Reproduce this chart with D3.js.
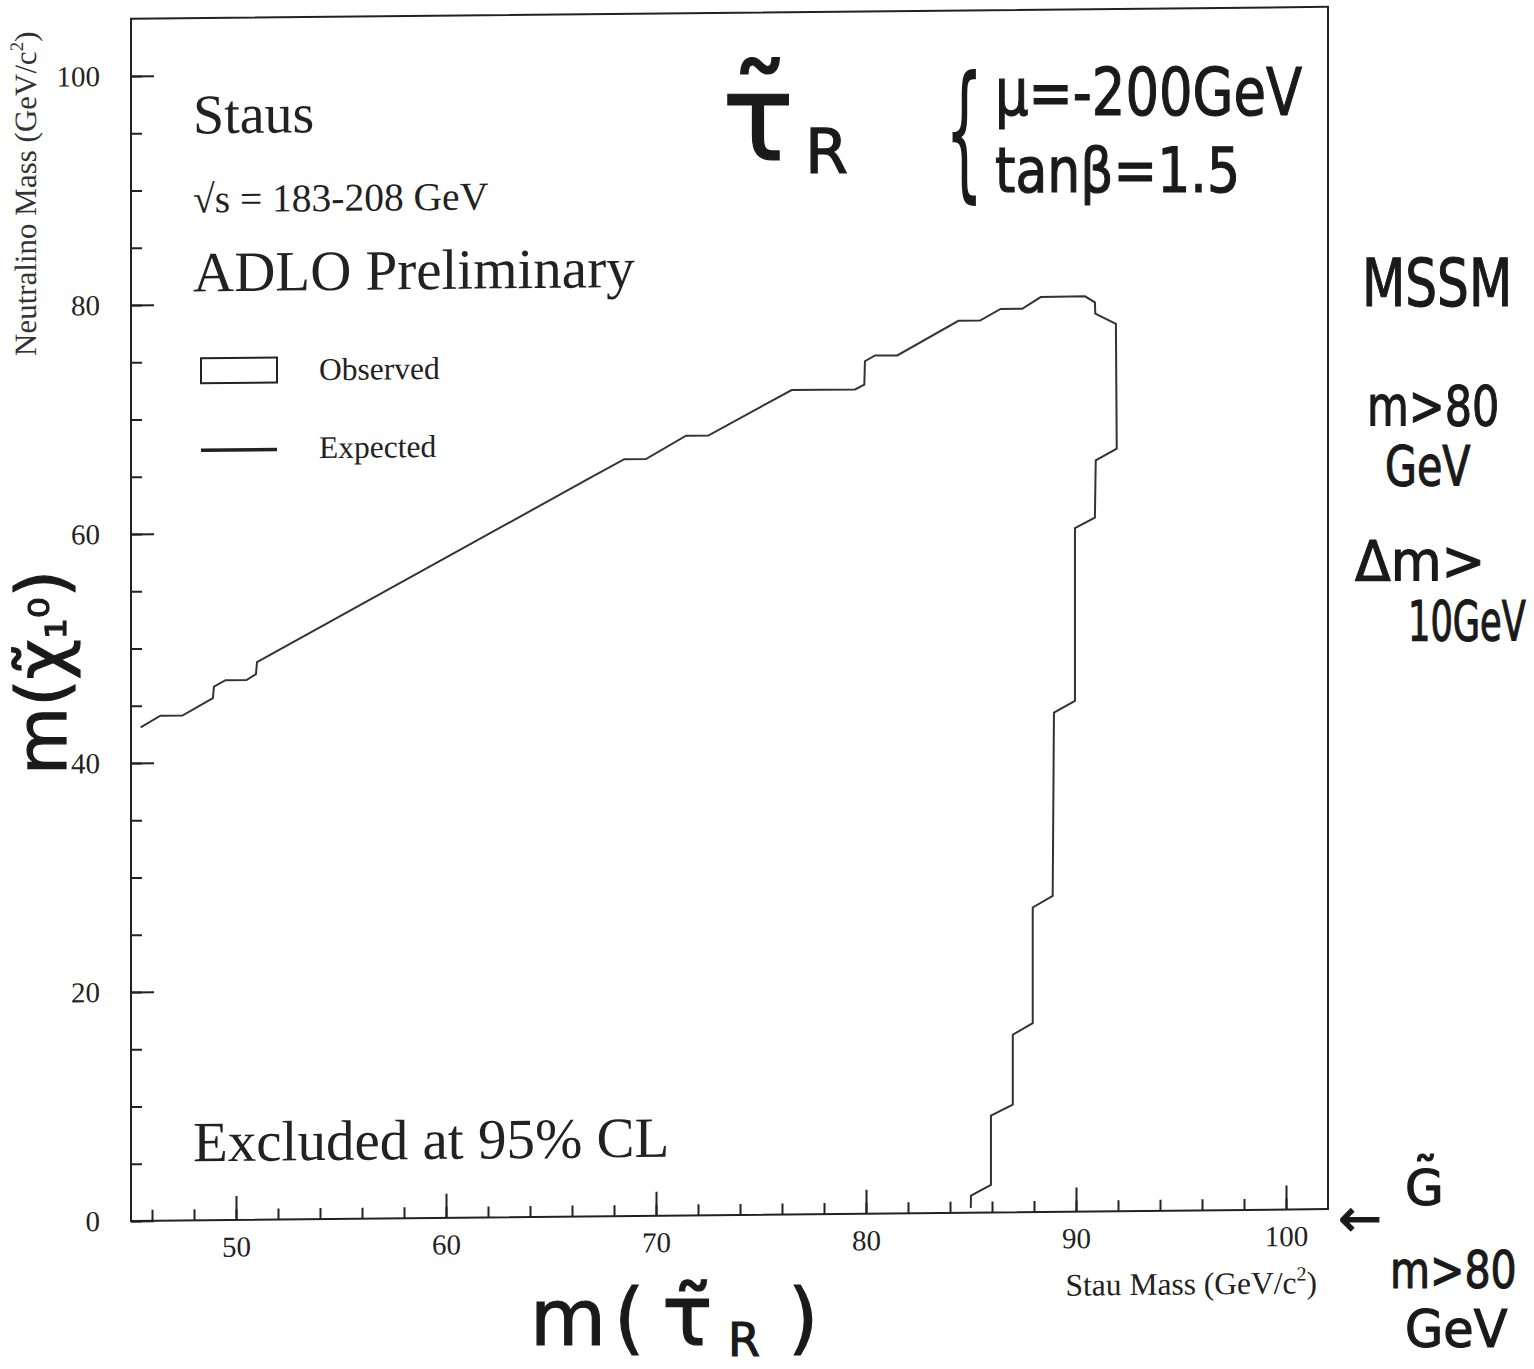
<!DOCTYPE html>
<html>
<head>
<meta charset="utf-8">
<script src="https://d3js.org/d3.v7.min.js"></script>
<style>
  body { margin: 0; background: #fff; }
  svg { display: block; }
</style>
</head>
<body>
<div id="chart"></div>
<script>
// excluded region contour (stau mass, neutralino mass)
var stauMass = [45.46, 46.4, 47.45, 48.9, 48.95, 49.5, 50.5, 50.95, 51.0, 52.57, 66.86, 68.49, 69.52, 71.43, 72.49, 76.46, 79.48, 79.92, 79.95, 80.43, 81.49, 84.4, 85.43, 86.41, 87.44, 88.32, 90.43, 90.9, 90.92, 91.9, 91.94, 90.94, 90.9, 89.95, 89.95, 88.95, 88.89, 87.94, 87.94, 86.99, 86.99, 85.95, 85.95, 85.0, 84.99]
var neutralinoMass = [43.1, 44.1, 44.1, 45.6, 46.6, 47.15, 47.15, 47.65, 48.7, 50.26, 64.5, 66.1, 66.1, 68.1, 68.1, 72.0, 72.0, 72.4, 74.45, 74.95, 74.93, 77.9, 77.9, 78.9, 78.9, 79.9, 79.93, 79.4, 78.4, 77.5, 66.6, 65.6, 60.6, 59.7, 44.6, 43.6, 27.6, 26.6, 16.5, 15.5, 9.4, 8.45, 2.4, 1.48, 0.4]

var xMajor = [50, 60, 70, 80, 90, 100]
var xMinor = d3.range(46, 101, 2)
var yMajor = [0, 20, 40, 60, 80, 100]
var yMinor = d3.range(0, 105, 5)

var serif = "'Liberation Serif', 'Times New Roman', serif"
var hand = "'DejaVu Sans', sans-serif"

var W = 1534, H = 1369
var svg = d3.select("#chart").append("svg").attr("width", W).attr("height", H)

var plotLeft = 131, plotRight = 1328, plotBottom = 1221
var x = d3.scaleLinear().domain([45, 102]).range([plotLeft, plotRight])
var y = d3.scaleLinear().domain([0, 100]).range([plotBottom, 76])
var plotTop = y(105)

// the scan is slightly sheared, follow it
var g = svg.append("g")
  .attr("transform", "translate(" + plotLeft + ",0) skewY(-0.57) translate(" + (-plotLeft) + ",0)")

g.append("rect")
  .attr("x", plotLeft).attr("y", plotTop)
  .attr("width", plotRight - plotLeft).attr("height", plotBottom - plotTop)
  .attr("fill", "none").attr("stroke", "#222").attr("stroke-width", 2)

// minor ticks
g.append("g").attr("transform", "translate(0," + plotBottom + ")")
  .call(d3.axisBottom(x).tickValues(xMinor).tickSize(-11).tickFormat(""))
g.append("g").attr("transform", "translate(" + plotLeft + ",0)")
  .call(d3.axisLeft(y).tickValues(yMinor).tickSize(-11).tickFormat(""))

// major ticks with labels
g.append("g").attr("transform", "translate(0," + plotBottom + ")")
  .call(d3.axisBottom(x).tickValues(xMajor).tickSize(-24).tickPadding(16).tickFormat(d3.format("d")))
g.append("g").attr("transform", "translate(" + plotLeft + ",0)")
  .call(d3.axisLeft(y).tickValues(yMajor).tickSize(-23).tickPadding(31).tickFormat(d3.format("d")))

g.selectAll(".domain").remove()
g.selectAll(".tick line").attr("stroke", "#222").attr("stroke-width", 2)
g.selectAll(".tick text").attr("font-family", serif).attr("font-size", 29).attr("fill", "#222")

// contour
var pts = stauMass.map(function(d, i) { return [d, neutralinoMass[i]] })
g.append("path")
  .datum(pts)
  .attr("d", d3.line().x(function(d) { return x(d[0]) }).y(function(d) { return y(d[1]) }))
  .attr("fill", "none").attr("stroke", "#333").attr("stroke-width", 2)

// printed texts
function txt(s, px, py, size) {
  return g.append("text").text(s).attr("x", px).attr("y", py)
    .attr("font-family", serif).attr("font-size", size).attr("fill", "#222")
}
txt("Staus", 193, 134, 56)
txt("\u221As = 183-208 GeV", 193, 213, 39.5)
txt("ADLO Preliminary", 193, 292, 57)
txt("Excluded at 95% CL", 193, 1162, 57)
txt("Observed", 319, 382, 31.5)
txt("Expected", 319, 460, 31.5)

g.append("rect").attr("x", 201).attr("y", 359).attr("width", 76).attr("height", 25)
  .attr("fill", "#fff").attr("stroke", "#222").attr("stroke-width", 2)
g.append("line").attr("x1", 201).attr("x2", 277).attr("y1", 451).attr("y2", 451)
  .attr("stroke", "#222").attr("stroke-width", 3.5)

var xl = txt("Stau Mass (GeV/c", 1317, 1305, 31.5).attr("text-anchor", "end")
xl.append("tspan").text("2").attr("font-size", 20).attr("dy", -13)
xl.append("tspan").text(")").attr("dy", 13)

var yl = g.append("text").attr("transform", "translate(36,355) rotate(-90)")
  .attr("font-family", serif).attr("font-size", 31).attr("fill", "#333")
  .text("Neutralino Mass (GeV/c")
yl.append("tspan").text("2").attr("font-size", 19).attr("dy", -13)
yl.append("tspan").text(")").attr("dy", 13)

// handwritten notes, narrowed with a horizontal scale
function note(s, px, py, size, sx) {
  return svg.append("text").text(s)
    .attr("transform", "translate(" + px + "," + py + ") scale(" + (sx || 1) + ",1)")
    .attr("font-family", hand).attr("font-size", size).attr("fill", "#1a1a1a")
    .attr("stroke", "#1a1a1a").attr("stroke-width", 1.2)
}
// letter with a tilde above it: one text node, the tilde placed per glyph
function tilded(s, px, py, size, tdx, tdy) {
  return note("\u02DC" + s, px, py, size)
    .attr("x", tdx + " 0").attr("y", tdy + " 0")
}

tilded("\u03C4", 722, 160, 120, 8, -10)
note("R", 805, 173, 62)
svg.append("text").text("{").attr("transform", "translate(945,182) scale(0.55,1.35)")
  .attr("font-family", hand).attr("font-size", 110).attr("fill", "#1a1a1a")
note("\u03BC=-200GeV", 995, 115, 66, 0.8)
note("tan\u03B2=1.5", 995, 192, 62, 0.84)
note("MSSM", 1362, 306, 66, 0.76)
note("m>80", 1367, 425, 55, 0.78)
note("GeV", 1385, 485, 55, 0.75)
note("\u0394m>", 1355, 580, 55, 0.95)
note("10GeV", 1408, 640, 55, 0.64)
tilded("G", 1405, 1205, 50, 8, -12)
note("\u2190", 1338, 1236, 52, 1)
note("m>80", 1390, 1288, 52, 0.79)
note("GeV", 1405, 1347, 52, 0.95)

note("m(", 530, 1345, 78).attr("letter-spacing", 8)
tilded("\u03C4", 662, 1345, 84, 10, 0)
note("R", 728, 1356, 46)
note(")", 788, 1345, 78)

var mc = svg.append("text").attr("transform", "translate(66,775) rotate(-90)")
  .attr("font-family", hand).attr("font-size", 70).attr("fill", "#1a1a1a")
  .attr("stroke", "#1a1a1a").attr("stroke-width", 1.2)
  .text("m(\u03C7\u0303")
mc.append("tspan").text("\u2081\u2070").attr("font-size", 52)
mc.append("tspan").text(")")
</script>
</body>
</html>
